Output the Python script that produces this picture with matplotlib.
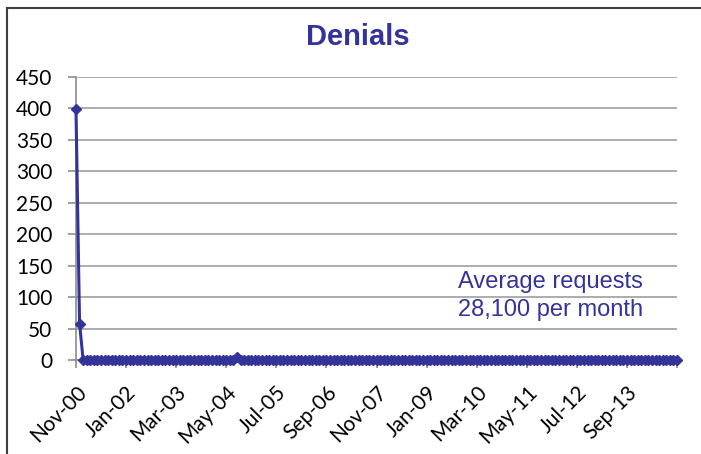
import matplotlib
matplotlib.use("Agg")
import matplotlib.pyplot as plt
from matplotlib.lines import Line2D
import numpy as np

# --- Data (monthly denials, Nov-00 .. Nov-14) ---
denials = (
    [398, 58]                                  # 2000 Nov-Dec
    + [0, 0, 0, 0, 0, 0, 0, 0, 0, 0, 0, 0]     # 2001
    + [0, 0, 0, 0, 0, 0, 0, 0, 0, 0, 0, 0]     # 2002
    + [0, 0, 0, 0, 0, 0, 0, 0, 0, 0, 0, 0]     # 2003
    + [0, 0, 0, 0, 0, 0, 0, 5, 0, 0, 0, 0]     # 2004
    + [0, 0, 0, 0, 0, 0, 0, 0, 0, 0, 0, 0]     # 2005
    + [0, 0, 0, 0, 0, 0, 0, 0, 0, 0, 0, 0]     # 2006
    + [0, 0, 0, 0, 0, 0, 0, 0, 0, 0, 0, 0]     # 2007
    + [0, 0, 0, 0, 0, 0, 0, 0, 0, 0, 0, 0]     # 2008
    + [0, 0, 0, 0, 0, 0, 0, 0, 0, 0, 0, 0]     # 2009
    + [0, 0, 0, 0, 0, 0, 0, 0, 0, 0, 0, 0]     # 2010
    + [0, 0, 0, 0, 0, 0, 0, 0, 0, 0, 0, 0]     # 2011
    + [0, 0, 0, 0, 0, 0, 0, 0, 0, 0, 0, 0]     # 2012
    + [0, 0, 0, 0, 0, 0, 0, 0, 0, 0, 0, 0]     # 2013
    + [0, 0, 0, 0, 0, 0, 0, 0, 0, 0, 0]        # 2014 Jan-Nov
)
tick_labels = ["Nov-00", "Jan-02", "Mar-03", "May-04", "Jul-05", "Sep-06",
               "Nov-07", "Jan-09", "Mar-10", "May-11", "Jul-12", "Sep-13", ""]
tick_step = 14  # months between labels
y_ticks = [0, 50, 100, 150, 200, 250, 300, 350, 400, 450]
title = "Denials"
note = "Average requests\n28,100 per month"

navy = "#333399"
grid_col = "#a6a6a6"
axis_col = "#8c8c8c"

fig = plt.figure(figsize=(7.01, 4.54), dpi=100)
ax = fig.add_axes([0.1084, 0.207, 0.8574, 0.624])

x = np.arange(len(denials))
ax.plot(x, denials, color=navy, lw=2.2, marker="D", markersize=5.5,
        markeredgecolor=navy, markerfacecolor=navy, clip_on=False, zorder=3)

ax.set_xlim(0, len(denials) - 1)
ax.set_ylim(0, 450)
ax.set_yticks(y_ticks)
ax.set_yticklabels([str(v) for v in y_ticks], fontfamily="Lato", fontsize=15)
ax.set_xticks(np.arange(0, len(denials), tick_step))
ax.set_xticklabels(tick_labels, rotation=45, ha="right", rotation_mode="anchor",
                   fontfamily="Lato", fontsize=15)

ax.grid(axis="y", color=grid_col, lw=1.3)
ax.set_axisbelow(True)
for side in ["top", "right"]:
    ax.spines[side].set_visible(False)
for side in ["left", "bottom"]:
    ax.spines[side].set_color(axis_col)
    ax.spines[side].set_linewidth(1.2)
ax.tick_params(axis="both", direction="out", length=6, color=axis_col, width=1.2)
ax.tick_params(axis="y", pad=11)
ax.tick_params(axis="x", pad=10)

fig.text(0.511, 0.918, title, ha="center", va="center", color=navy,
         fontfamily="Liberation Sans", fontweight="bold", fontsize=21)
ax.text(0.79, 0.225, note, transform=ax.transAxes, ha="center", va="center",
        color=navy, fontfamily="Liberation Sans", fontsize=17, linespacing=1.35)

# chart frame (left and top edges visible in the crop)
fig.add_artist(Line2D([0.01, 0.01], [0.0, 0.982], color="#404040", lw=1.5))
fig.add_artist(Line2D([0.01, 1.0], [0.982, 0.982], color="#404040", lw=1.5))

fig.savefig("out.png", dpi=100)
